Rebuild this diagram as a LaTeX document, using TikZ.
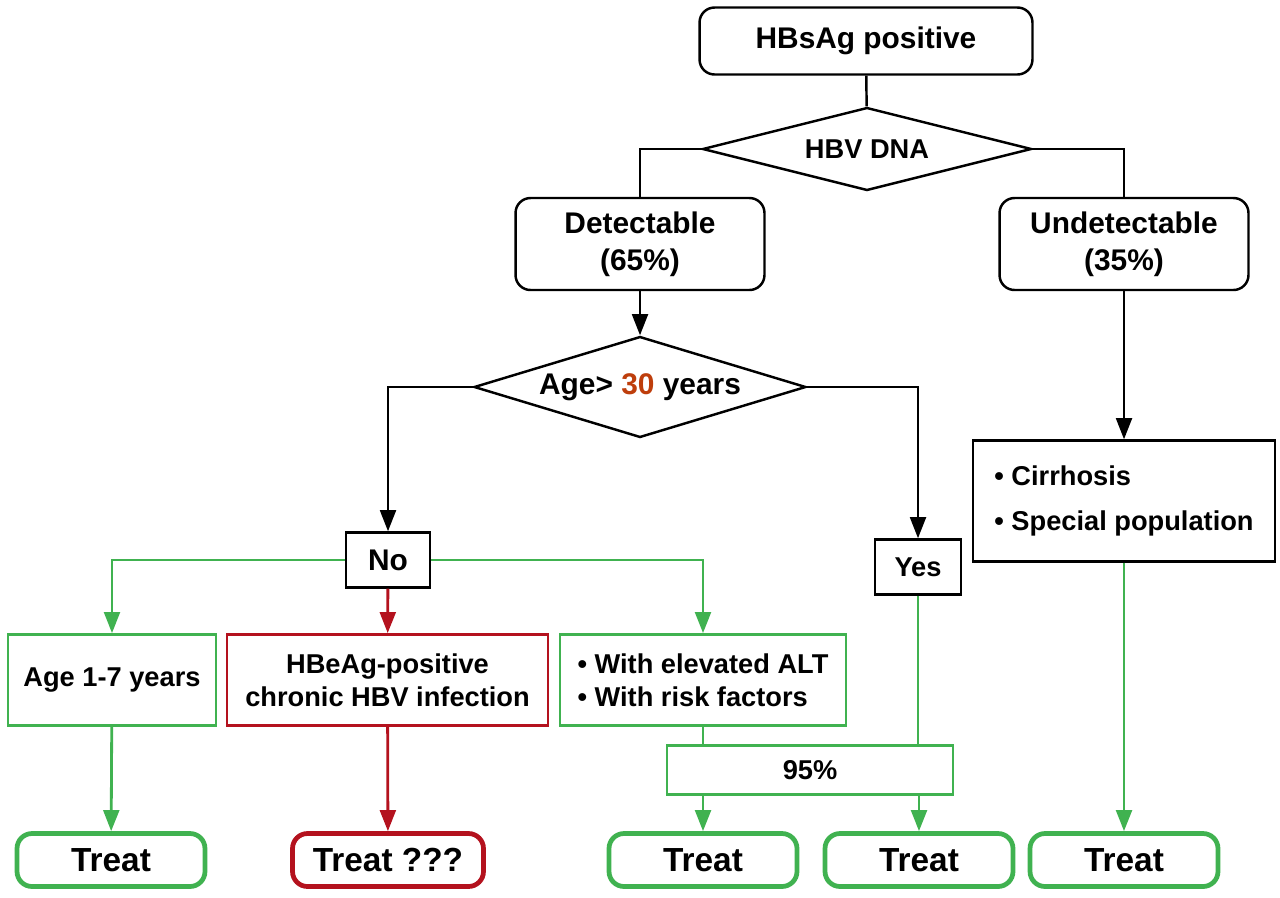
\documentclass[tikz,border=0pt]{standalone}
\usepackage{fontspec}
\setmainfont{Liberation Sans}
\usetikzlibrary{shapes.geometric,arrows.meta}
\definecolor{okgreen}{RGB}{64,178,80}
\definecolor{warnred}{RGB}{180,18,30}
\definecolor{agecol}{RGB}{190,62,12}
\tikzset{
  big/.style={font=\fontsize{17}{21}\selectfont\bfseries},
  mid/.style={font=\fontsize{15.5}{19}\selectfont\bfseries},
  topbox/.style={draw, rounded corners=0.3cm, line width=1.4pt, big, align=center, inner sep=0pt},
  choice/.style={draw, diamond, inner sep=0pt, line width=1.4pt},
  plainbox/.style={draw, line width=1.4pt, inner sep=0pt},
  gbox/.style={draw=okgreen, line width=1.6pt, inner sep=0pt, mid, align=center},
  rbox/.style={draw=warnred, line width=1.6pt, inner sep=0pt, mid, align=center},
  treat/.style={draw=okgreen, line width=2.7pt, rounded corners=0.3cm, inner sep=0pt,
    minimum width=3.76cm, minimum height=1.06cm, font=\fontsize{19}{22}\selectfont\bfseries},
  arr/.style={line width=1.4pt, -{Triangle[length=12pt,width=9pt]}},
  garr/.style={arr, draw=okgreen, line width=1.6pt},
  rarr/.style={arr, draw=warnred, line width=1.6pt},
}

\begin{document}
\begin{tikzpicture}[x=0.02cm, y=-0.02cm]
  \useasboundingbox (0,0) rectangle (1280,897);

  \node[topbox, minimum width=6.66cm, minimum height=1.34cm] (hbsag) at (866,41) {HBsAg positive};
  \node[choice, aspect=3.96, minimum width=6.58cm, minimum height=1.66cm, font=\fontsize{15.5}{18}\selectfont\bfseries] (hbv) at (867,149) {HBV DNA};
  \node[topbox, minimum width=4.98cm, minimum height=1.84cm] (det) at (640,244) {Detectable\\(65\%)};
  \node[topbox, minimum width=4.98cm, minimum height=1.84cm] (undet) at (1124,244) {Undetectable\\(35\%)};
  \node[choice, aspect=3.29, minimum width=6.64cm, minimum height=2.02cm, big] (age) at (640,387) {Age> \textcolor{agecol}{30} years};
  \node[plainbox, minimum width=1.68cm, minimum height=1.1cm, big] (no) at (388,560) {No};
  \node[plainbox, minimum width=1.72cm, minimum height=1.1cm, mid] (yes) at (918,567) {Yes};
  \node[plainbox, minimum width=6.04cm, minimum height=2.42cm, mid, align=left] (cirr) at (1124,501) {\textbullet\ Cirrhosis\\[0.25cm]\textbullet\ Special population};

  \node[gbox, minimum width=4.16cm, minimum height=1.82cm] (young) at (112,680) {Age 1-7 years};
  \node[rbox, minimum width=6.42cm, minimum height=1.82cm] (hbeag) at (387.5,680) {HBeAg-positive\\chronic HBV infection};
  \node[gbox, minimum width=5.72cm, minimum height=1.82cm, align=left] (alt) at (703,680) {\textbullet\ With elevated ALT\\\textbullet\ With risk factors};
  \node[gbox, minimum width=5.72cm, minimum height=0.98cm] (pct) at (810,770) {95\%};

  \node[treat] (t1) at (111,860) {Treat};
  \node[treat, draw=warnred, minimum width=3.82cm] (t2) at (388,860) {Treat ???};
  \node[treat] (t3) at (703,860) {Treat};
  \node[treat] (t4) at (919,860) {Treat};
  \node[treat] (t5) at (1124,860) {Treat};

  \draw[line width=1.4pt] (hbsag) -- (hbv);
  \draw[line width=1.4pt] (hbv.west) -| (det.north);
  \draw[line width=1.4pt] (hbv.east) -| (undet.north);
  \draw[arr] (det) -- (age);
  \draw[arr] (age.west) -| (no.north);
  \draw[arr] (age.east) -| (yes.north);
  \draw[arr] (undet) -- (cirr);

  \draw[garr] (no.west) -| (young.north);
  \draw[rarr] (no) -- (hbeag);
  \draw[garr] (no.east) -| (alt.north);
  \draw[draw=okgreen, line width=1.6pt] (alt.south) -- (alt.south |- pct.north);
  \draw[draw=okgreen, line width=1.6pt] (yes.south) -- (yes.south |- pct.north);

  \draw[garr] (young) -- (t1);
  \draw[rarr] (hbeag) -- (t2);
  \draw[garr] (pct.south -| t3.north) -- (t3.north);
  \draw[garr] (pct.south -| t4.north) -- (t4.north);
  \draw[garr] (cirr) -- (t5);
\end{tikzpicture}
\end{document}
